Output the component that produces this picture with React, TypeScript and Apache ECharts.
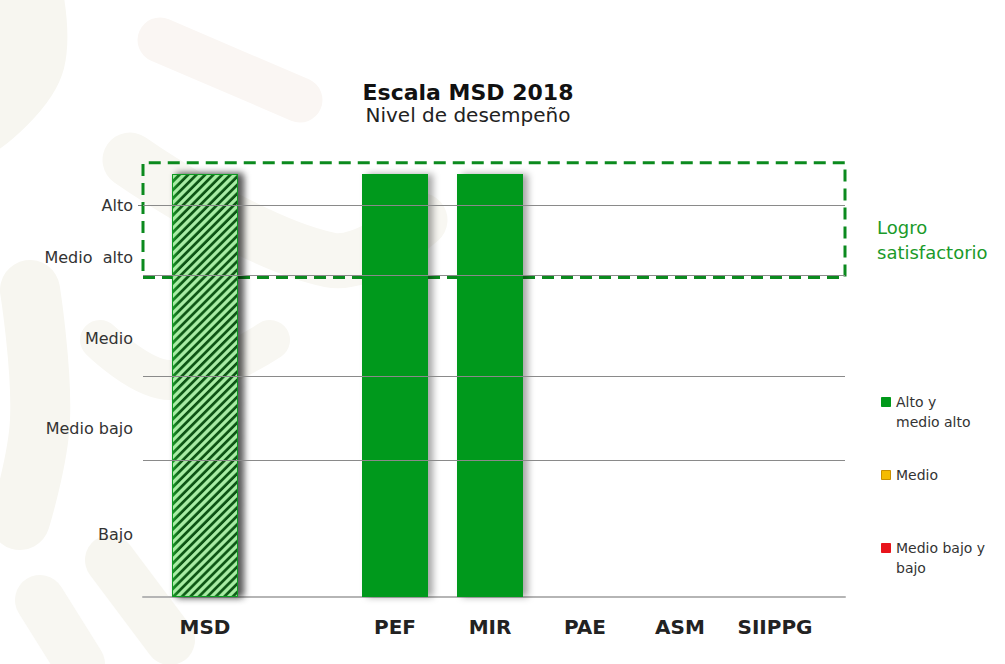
import React, { useEffect, useRef } from "react";
import * as echarts from "echarts";

// ---- data ----
const categories = ["MSD", "", "PEF", "MIR", "PAE", "ASM", "SIIPPG"];
const barValues: (number | null)[] = [9.4, null, 9.4, 9.4, null, null, null];
const hatched = [true, false, false, false, false, false, false];
const levelLabels = ["Alto", "Medio  alto", "Medio", "Medio bajo", "Bajo"];
const levelLabelValues = [8.7, 7.55, 5.75, 3.75, 1.4];
const bandLineValues = [8.7, 7.15, 4.9, 3.05];
const satisfactoryRange = [7.1, 9.65];
const satisfactoryText = "Logro\nsatisfactorio";
const legendNames = ["Alto y\nmedio alto", "Medio", "Medio bajo y\nbajo"];
const legendColors = ["#00991a", "#f5bb00", "#e8141c"];
const titleText = "Escala MSD 2018";
const subtitleText = "Nivel de desempeño";

const GREEN = "#00991a";
const FONT = "DejaVu Sans";

export default function App() {
  const ref = useRef<HTMLDivElement>(null);
  useEffect(() => {
    if (!ref.current) return;
    const chart = echarts.init(ref.current, undefined, { renderer: "svg" });

    const barData = barValues.map((v, i) => {
      if (v === null) return "-";
      if (hatched[i]) {
        return {
          value: v,
          itemStyle: {
            color: "#1aa02a",
            borderColor: "#109a20",
            borderWidth: 1,
            decal: {
              symbol: "rect",
              symbolSize: 1,
              color: "rgba(175,240,170,0.95)",
              dashArrayX: [1, 0],
              dashArrayY: [2.5, 2.5],
              rotation: -Math.PI / 4,
            },
          },
        };
      }
      return v;
    });

    const legendGraphics: any[] = [];
    const legendTops = [397, 470, 543];
    legendNames.forEach((name, i) => {
      legendGraphics.push({
        type: "rect",
        left: 881,
        top: legendTops[i],
        shape: { width: 9, height: 9 },
        style: { fill: legendColors[i], stroke: i === 1 ? "#c98f00" : legendColors[i], lineWidth: 1 },
      });
      legendGraphics.push({
        type: "text",
        left: 896,
        top: legendTops[i] - 5,
        style: {
          text: name,
          fill: "#333",
          font: `14px "${FONT}"`,
          lineHeight: 20,
        },
      });
    });

    // faint background watermark shapes
    const wm = (points: number[][], color: string, width: number) => ({
      type: "polyline",
      silent: true,
      z: -10,
      shape: { points, smooth: 0.4 },
      style: { stroke: color, lineWidth: width, lineCap: "round", fill: null },
    });
    const watermark = [
      wm([[20, -40], [30, 60], [-20, 120]], "#f7f6f0", 70),
      wm([[160, 40], [300, 100]], "#faf6f3", 45),
      wm([[130, 160], [330, 260], [420, 220]], "#f8f7f2", 55),
      wm([[30, 290], [40, 420], [20, 520]], "#f7f6f0", 60),
      wm([[100, 340], [170, 380], [270, 340]], "#f8f7f2", 40),
      wm([[110, 560], [170, 640]], "#f7f6f0", 50),
      wm([[40, 600], [80, 664]], "#f8f7f2", 50),
    ];

    chart.setOption({
      animation: false,
      backgroundColor: "#ffffff",
      title: {
        text: titleText,
        subtext: subtitleText,
        left: 463,
        top: 76,
        textAlign: "center",
        itemGap: 2,
        textStyle: { fontFamily: FONT, fontWeight: "bold", fontSize: 22, color: "#111" },
        subtextStyle: { fontFamily: FONT, fontSize: 20, color: "#222" },
      },
      grid: [
        { left: 143, right: 160, top: 147, bottom: 67 },
        { left: 157.5, right: 182.5, top: 147, bottom: 67 },
      ],
      xAxis: [
        {
          gridIndex: 0,
          type: "value",
          min: 0,
          max: 1,
          axisLine: { show: true, lineStyle: { color: "#b5b5b5", width: 2 } },
          axisTick: { show: false },
          axisLabel: { show: false },
          splitLine: { show: false },
        },
        {
          gridIndex: 1,
          type: "category",
          data: categories,
          axisLine: { show: false },
          axisTick: { show: false },
          axisLabel: {
            margin: 20,
            fontFamily: FONT,
            fontWeight: "bold",
            fontSize: 20,
            color: "#222",
            interval: 0,
          },
        },
      ],
      yAxis: [
        {
          gridIndex: 0,
          type: "value",
          min: 0,
          max: 10,
          axisLine: { show: false },
          splitLine: { show: false },
          axisTick: {
            show: true,
            length: 5,
            customValues: [levelLabelValues[0]],
            lineStyle: { color: "#777" },
          },
          axisLabel: {
            customValues: levelLabelValues,
            margin: 10,
            fontFamily: FONT,
            fontSize: 16,
            color: "#333",
            formatter: (v: number) => {
              const idx = levelLabelValues.findIndex((x) => Math.abs(x - v) < 1e-6);
              return idx >= 0 ? levelLabels[idx] : "";
            },
          },
        },
        {
          gridIndex: 1,
          type: "value",
          min: 0,
          max: 10,
          show: false,
        },
      ],
      series: [
        {
          type: "line",
          xAxisIndex: 0,
          yAxisIndex: 0,
          data: [[0, 0]],
          showSymbol: false,
          silent: true,
          lineStyle: { opacity: 0 },
          markLine: {
            silent: true,
            symbol: "none",
            label: { show: false },
            lineStyle: { color: "#8a8a8a", width: 1, type: "solid" },
            data: bandLineValues.map((v) => ({ yAxis: v })),
          },
          markArea: {
            silent: true,
            itemStyle: {
              color: "rgba(0,0,0,0)",
              borderColor: "#0b8a1e",
              borderWidth: 3,
              borderType: [12, 7],
            },
            label: { show: false },
            data: [[{ yAxis: satisfactoryRange[0] }, { yAxis: satisfactoryRange[1] }]],
          },
          z: 1,
        },
        {
          type: "bar",
          xAxisIndex: 1,
          yAxisIndex: 1,
          barWidth: 66,
          data: barData,
          itemStyle: {
            color: GREEN,
            shadowColor: "rgba(0,0,0,0.35)",
            shadowBlur: 7,
            shadowOffsetX: 5,
            shadowOffsetY: 0,
          },
          z: 3,
        },
      ],
      graphic: [
        ...watermark,
        {
          type: "text",
          left: 877,
          top: 215,
          style: {
            text: satisfactoryText,
            fill: "#1a9a2a",
            font: `18px "${FONT}"`,
            lineHeight: 25,
          },
        },
        ...legendGraphics,
      ],
    });

    return () => chart.dispose();
  }, []);

  return (
    <div
      ref={ref}
      style={{ position: "absolute", left: 0, top: 0, width: 1005, height: 664 }}
    />
  );
}
